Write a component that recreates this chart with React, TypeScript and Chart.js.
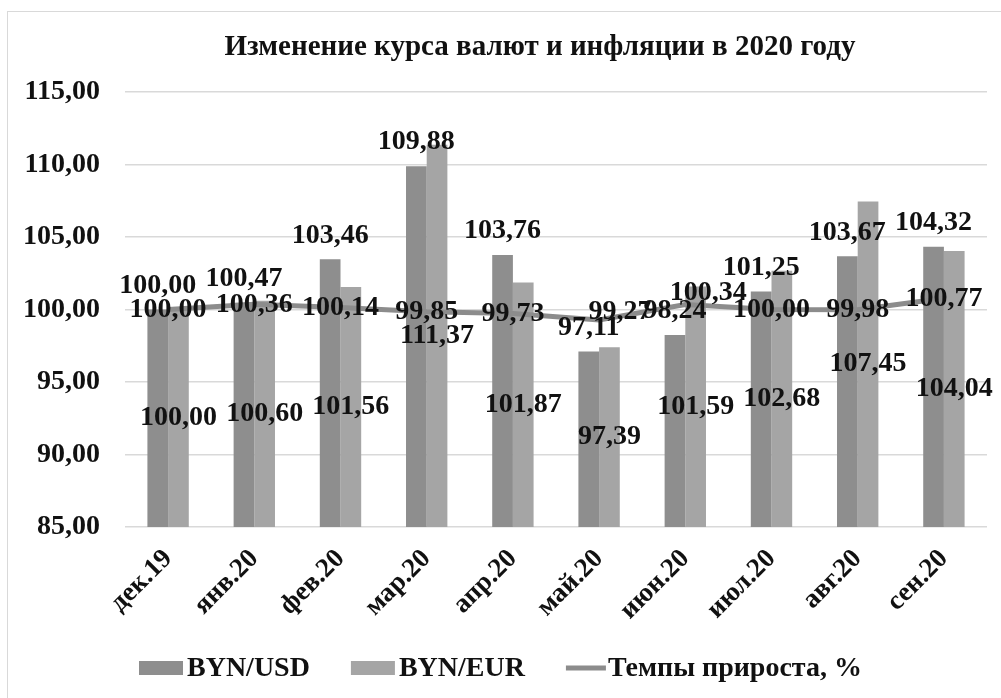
import React, { useEffect, useRef } from "react";
import { Chart, registerables } from "chart.js";

Chart.register(...registerables);

const chartTitle = "Изменение курса валют и инфляции в 2020 году";
const categories = ["дек.19", "янв.20", "фев.20", "мар.20", "апр.20", "май.20", "июн.20", "июл.20", "авг.20", "сен.20"];
const usdValues = [100.0, 100.47, 103.46, 109.88, 103.76, 97.11, 98.24, 101.25, 103.67, 104.32];
const eurValues = [100.0, 100.6, 101.56, 111.37, 101.87, 97.39, 101.59, 102.68, 107.45, 104.04];
const growthValues = [100.0, 100.36, 100.14, 99.85, 99.73, 99.27, 100.34, 100.0, 99.98, 100.77];
const seriesNames = ["BYN/USD", "BYN/EUR", "Темпы прироста, %"];
const yMin = 85;
const yMax = 115;
const yStep = 5;

const FONT = "'Liberation Serif', 'Times New Roman', serif";
const USD_COLOR = "#8e8e8e";
const EUR_COLOR = "#a5a5a5";
const LINE_COLOR = "#8c8c8c";
// manual nudges of the line labels (px), as in the original
const lineLabelNudge: [number, number][] = [
  [0, 0], [0, 0], [0, 0], [0, 0], [0, 0], [21, -8], [23, -12], [0, 0], [0, 0], [0, 0],
];

const fmt = (v: number) => v.toFixed(2).replace(".", ",");

const valueLabels = {
  id: "valueLabels",
  afterDatasetsDraw(chart: any) {
    const ctx = chart.ctx;
    const yScale = chart.scales.y;
    const basePx = yScale.getPixelForValue(yMin);
    ctx.save();
    ctx.font = `bold 28px ${FONT}`;
    ctx.fillStyle = "#111";
    ctx.textAlign = "center";
    ctx.textBaseline = "middle";
    const order = [1, 0, 2];
    order.forEach((di) => {
      const ds = chart.data.datasets[di];
      const meta = chart.getDatasetMeta(di);
      meta.data.forEach((el: any, i: number) => {
        const v = Number(ds.data[i]);
        let x = el.x;
        let y = el.y;
        if (di === 0) {
          y = el.y - 24;
        } else if (di === 1) {
          y = (yScale.getPixelForValue(v) + basePx) / 2;
        } else {
          x += lineLabelNudge[i][0];
          y += lineLabelNudge[i][1];
        }
        ctx.fillText(fmt(v), x, y);
      });
    });
    ctx.restore();
  },
};

const customTitleAndLegend = {
  id: "customTitleAndLegend",
  afterDraw(chart: any) {
    const ctx = chart.ctx;
    ctx.save();
    // title (centred on the full chart object, which runs past the right edge)
    ctx.font = `bold 29px ${FONT}`;
    ctx.fillStyle = "#111";
    ctx.textAlign = "center";
    ctx.textBaseline = "middle";
    ctx.fillText(chartTitle, 540, 48);

    // legend
    ctx.font = `bold 28px ${FONT}`;
    ctx.textBaseline = "middle";
    ctx.textAlign = "left";
    let x = 139;
    const y = 668;
    chart.data.datasets.forEach((ds: any) => {
      if (ds.type === "line") {
        ctx.strokeStyle = ds.borderColor;
        ctx.lineWidth = 5;
        ctx.beginPath();
        ctx.moveTo(x, y);
        ctx.lineTo(x + 40, y);
        ctx.stroke();
        x += 42;
      } else {
        ctx.fillStyle = ds.backgroundColor;
        ctx.fillRect(x, y - 7, 44, 14);
        x += 48;
      }
      ctx.fillStyle = "#111";
      ctx.fillText(ds.label, x, y + 1);
      x += ctx.measureText(ds.label).width + 41;
    });
    ctx.restore();
  },
};

export default function App() {
  const canvasRef = useRef<HTMLCanvasElement | null>(null);

  useEffect(() => {
    if (!canvasRef.current) return;
    const chart = new Chart(canvasRef.current, {
      type: "bar",
      data: {
        labels: categories,
        datasets: [
          {
            type: "bar",
            label: seriesNames[0],
            data: usdValues,
            backgroundColor: USD_COLOR,
            categoryPercentage: 0.48,
            barPercentage: 1.0,
            order: 1,
          },
          {
            type: "bar",
            label: seriesNames[1],
            data: eurValues,
            backgroundColor: EUR_COLOR,
            categoryPercentage: 0.48,
            barPercentage: 1.0,
            order: 1,
          },
          {
            type: "line",
            label: seriesNames[2],
            data: growthValues,
            borderColor: LINE_COLOR,
            backgroundColor: LINE_COLOR,
            borderWidth: 5,
            pointRadius: 0,
            tension: 0,
            order: 0,
          } as any,
        ],
      },
      options: {
        responsive: false,
        animation: false,
        layout: { padding: { left: 0, right: 14, top: 92, bottom: 60 } },
        plugins: {
          legend: { display: false },
          tooltip: { enabled: false },
          title: { display: false },
        },
        scales: {
          x: {
            grid: { display: false },
            border: { display: false },
            ticks: {
              color: "#111",
              font: { family: FONT, size: 27, weight: "bold" },
              minRotation: 45,
              maxRotation: 45,
              autoSkip: false,
              padding: 8,
            },
            afterFit: (scale: any) => {
              scale.height = 111;
            },
          },
          y: {
            min: yMin,
            max: yMax,
            grid: { color: "#d9d9d9", lineWidth: 1.5, drawTicks: false },
            border: { display: false },
            ticks: {
              stepSize: yStep,
              color: "#111",
              font: { family: FONT, size: 28, weight: "bold" },
              padding: 25,
              callback: (v: any) => fmt(Number(v)),
            },
            afterFit: (scale: any) => {
              scale.width = 125;
            },
          },
        },
      },
      plugins: [valueLabels, customTitleAndLegend],
    });
    return () => chart.destroy();
  }, []);

  return (
    <div style={{ position: "fixed", left: 0, top: 0, width: 1001, height: 698, background: "#fff" }}>
      <div
        style={{
          position: "absolute",
          left: 7,
          top: 11,
          width: 1010,
          height: 700,
          border: "1.5px solid #d9d9d9",
          boxSizing: "border-box",
        }}
      />
      <canvas ref={canvasRef} width={1001} height={698} style={{ position: "absolute", left: 0, top: 0 }} />
    </div>
  );
}
